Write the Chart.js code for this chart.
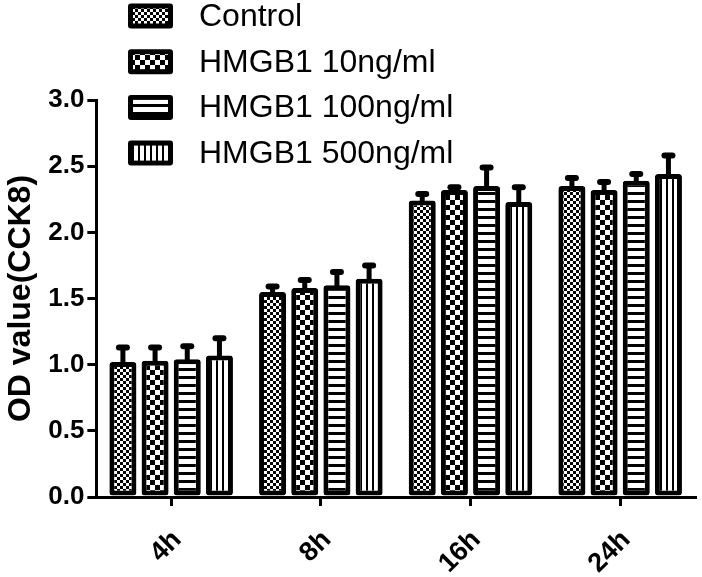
<!DOCTYPE html>
<html>
<head>
<meta charset="utf-8">
<script src="https://cdn.jsdelivr.net/npm/chart.js@4.4.0/dist/chart.umd.min.js"></script>
<style>
  html, body { margin: 0; padding: 0; background: #fff; }
  #wrap { width: 702px; height: 577px; }
</style>
</head>
<body>
<div id="wrap"><canvas id="odChart" width="702" height="577"></canvas></div>
<script>
// time points and series (OD values, CCK8 assay)
const timeLabels = ['4h', '8h', '16h', '24h'];
const seriesNames = ['Control', 'HMGB1 10ng/ml', 'HMGB1 100ng/ml', 'HMGB1 500ng/ml'];

const controlVals = [1.02, 1.55, 2.24, 2.35];
const hmgb10Vals  = [1.03, 1.58, 2.32, 2.32];
const hmgb100Vals = [1.04, 1.60, 2.35, 2.39];
const hmgb500Vals = [1.07, 1.65, 2.23, 2.44];

const controlErr = [0.11, 0.04, 0.05, 0.06];
const hmgb10Err  = [0.10, 0.06, 0.02, 0.06];
const hmgb100Err = [0.10, 0.10, 0.14, 0.05];
const hmgb500Err = [0.13, 0.10, 0.11, 0.14];

const yTicks = [0, 0.5, 1.0, 1.5, 2.0, 2.5, 3.0];

const FONT = '"Liberation Sans", Arial, sans-serif';

// --- fill patterns ---
function makePattern(w, h, draw) {
  const c = document.createElement('canvas');
  c.width = w; c.height = h;
  const g = c.getContext('2d');
  g.fillStyle = '#fff';
  g.fillRect(0, 0, w, h);
  g.fillStyle = '#000';
  draw(g);
  return document.getElementById('odChart').getContext('2d').createPattern(c, 'repeat');
}

const patFineCheck = makePattern(6, 6, g => { g.fillRect(0, 0, 3, 3); g.fillRect(3, 3, 3, 3); });
const patBigCheck = makePattern(10, 10, g => { g.fillRect(0, 0, 5, 5); g.fillRect(5, 5, 5, 5); });
const patHLines = makePattern(8, 8, g => { g.fillRect(0, 0, 8, 3); });
const patVLines = makePattern(6, 6, g => { g.fillRect(0, 0, 2, 6); });

const patterns = [patFineCheck, patBigCheck, patHLines, patVLines];
const seriesVals = [controlVals, hmgb10Vals, hmgb100Vals, hmgb500Vals];
const seriesErr = [controlErr, hmgb10Err, hmgb100Err, hmgb500Err];

const datasets = seriesNames.map((name, i) => ({
  label: name,
  data: seriesVals[i],
  errors: seriesErr[i],
  backgroundColor: patterns[i],
  borderColor: '#000',
  borderWidth: 5,
  borderRadius: 3,
  borderSkipped: false,
  categoryPercentage: 0.86,
  barPercentage: 0.84
}));

// error bars (upper only) drawn on top of the bars
const errorBarPlugin = {
  id: 'errorBars',
  afterDatasetsDraw(chart) {
    const ctx = chart.ctx;
    const yScale = chart.scales.y;
    ctx.save();
    ctx.strokeStyle = '#000';
    ctx.lineCap = 'round';
    chart.data.datasets.forEach((ds, di) => {
      const meta = chart.getDatasetMeta(di);
      meta.data.forEach((bar, i) => {
        const top = yScale.getPixelForValue(ds.data[i] + ds.errors[i]);
        ctx.lineWidth = 5;
        ctx.beginPath();
        ctx.moveTo(bar.x, bar.y + 2);
        ctx.lineTo(bar.x, top);
        ctx.stroke();
        ctx.lineWidth = 6;
        ctx.beginPath();
        ctx.moveTo(bar.x - 4, top);
        ctx.lineTo(bar.x + 4, top);
        ctx.stroke();
      });
    });
    ctx.restore();
  }
};

// stacked legend at top left
const stackedLegend = {
  id: 'stackedLegend',
  afterDraw(chart) {
    const ctx = chart.ctx;
    ctx.save();
    chart.data.datasets.forEach((ds, i) => {
      const cy = 16 + i * 45.7;
      const bx = 128, bw = 45, bh = 25;
      ctx.fillStyle = '#000';
      ctx.beginPath();
      ctx.roundRect(bx, cy - bh / 2, bw, bh, 3);
      ctx.fill();
      ctx.fillStyle = ds.backgroundColor;
      ctx.fillRect(bx + 5, cy - bh / 2 + 5, bw - 10, bh - 10);
      ctx.fillStyle = '#000';
      ctx.font = '32px ' + FONT;
      ctx.textBaseline = 'middle';
      ctx.textAlign = 'left';
      ctx.fillText(ds.label, 199, cy + 1);
    });
    ctx.restore();
  }
};

new Chart(document.getElementById('odChart'), {
  type: 'bar',
  data: { labels: timeLabels, datasets: datasets },
  options: {
    responsive: false,
    animation: false,
    devicePixelRatio: 1,
    layout: { padding: { left: 4, right: 7, top: 100, bottom: 0 } },
    plugins: { legend: { display: false }, tooltip: { enabled: false } },
    scales: {
      x: {
        afterFit: scale => { scale.height = 80; },
        grid: { display: true, drawOnChartArea: false, offset: false, color: '#000', lineWidth: 3, tickLength: 9 },
        border: { display: true, color: '#000', width: 3 },
        ticks: {
          color: '#000', minRotation: 45, maxRotation: 45, padding: 18, labelOffset: 6,
          font: { family: FONT, size: 27, weight: 'bold' }
        }
      },
      y: {
        min: 0,
        max: 3,
        afterBuildTicks: axis => { axis.ticks = yTicks.map(v => ({ value: v })); },
        grid: { display: true, drawOnChartArea: false, color: '#000', lineWidth: 3, tickLength: 9 },
        border: { display: true, color: '#000', width: 3 },
        ticks: {
          color: '#000', padding: 3,
          font: { family: FONT, size: 26, weight: 'bold' },
          callback: v => Number(v).toFixed(1)
        },
        title: {
          display: true, text: 'OD value(CCK8)', color: '#000',
          padding: { top: 0, bottom: 6 },
          font: { family: FONT, size: 32, weight: 'bold', lineHeight: 1.1 }
        }
      }
    }
  },
  plugins: [errorBarPlugin, stackedLegend]
});
</script>
</body>
</html>
